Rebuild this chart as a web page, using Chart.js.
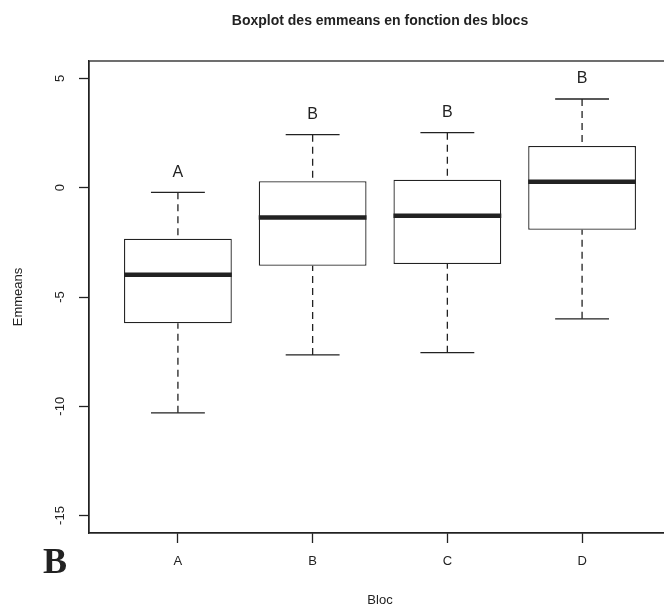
<!DOCTYPE html>
<html>
<head>
<meta charset="utf-8">
<script src="https://cdn.jsdelivr.net/npm/chart.js@4/dist/chart.umd.min.js"></script>
<style>
  html, body { margin: 0; padding: 0; background: #fff; overflow: hidden; }
  #wrap { width: 664px; height: 610px; overflow: hidden; }
</style>
</head>
<body>
<div id="wrap"><canvas id="chart" width="672" height="610"></canvas></div>
<script>
// values
const blocs = ['A', 'B', 'C', 'D'];
const whiskerLow = [-10.3, -7.65, -7.55, -6.0];
const quart1 = [-6.2, -3.57, -3.49, -1.92];
const medians = [-3.98, -1.36, -1.28, 0.27];
const quart3 = [-2.33, 0.30, 0.37, 1.91];
const whiskerHigh = [-0.21, 2.43, 2.52, 4.06];
const groupLetters = ['A', 'B', 'B', 'B'];
const yTicks = [-15, -10, -5, 0, 5];

const ink = '#222';
Chart.defaults.font.family = '"Liberation Sans", Arial, sans-serif';
Chart.defaults.color = ink;

// medians, whiskers, letters, frame, title
const boxExtras = {
  id: 'boxExtras',
  afterDatasetsDraw(chart) {
    const { ctx, chartArea: a, scales: { x, y } } = chart;
    const bars = chart.getDatasetMeta(0).data;
    ctx.save();
    ctx.strokeStyle = ink;
    ctx.fillStyle = ink;
    bars.forEach((bar, i) => {
      const cx = x.getPixelForValue(i + 1);
      const half = bar.width / 2;
      const yMed = y.getPixelForValue(medians[i]);
      const yHi = y.getPixelForValue(whiskerHigh[i]);
      const yLo = y.getPixelForValue(whiskerLow[i]);

      ctx.lineWidth = 4.5;
      ctx.beginPath();
      ctx.moveTo(cx - half, yMed);
      ctx.lineTo(cx + half, yMed);
      ctx.stroke();

      ctx.lineWidth = 1.3;
      ctx.setLineDash([7, 5]);
      ctx.beginPath();
      ctx.moveTo(cx, yHi);
      ctx.lineTo(cx, y.getPixelForValue(quart3[i]));
      ctx.moveTo(cx, yLo);
      ctx.lineTo(cx, y.getPixelForValue(quart1[i]));
      ctx.stroke();
      ctx.setLineDash([]);

      ctx.beginPath();
      ctx.moveTo(cx - half / 2, yHi);
      ctx.lineTo(cx + half / 2, yHi);
      ctx.moveTo(cx - half / 2, yLo);
      ctx.lineTo(cx + half / 2, yLo);
      ctx.stroke();

      ctx.font = '16px "Liberation Sans", Arial, sans-serif';
      ctx.textAlign = 'center';
      ctx.textBaseline = 'middle';
      ctx.fillText(groupLetters[i], cx, yHi - 20);
    });

    ctx.lineWidth = 1.3;
    ctx.strokeRect(a.left, a.top, a.right - a.left, a.bottom - a.top);

    ctx.font = 'bold 14px "Liberation Sans", Arial, sans-serif';
    ctx.textAlign = 'center';
    ctx.textBaseline = 'middle';
    ctx.fillText('Boxplot des emmeans en fonction des blocs', (a.left + a.right) / 2, 21);

    ctx.font = 'bold 36px "Liberation Serif", "Times New Roman", serif';
    ctx.textAlign = 'right';
    ctx.textBaseline = 'alphabetic';
    ctx.fillText('B', 67, 573);
    ctx.restore();
  }
};

const tickGrid = {
  display: true, drawOnChartArea: false, drawTicks: true,
  tickLength: 10, tickColor: ink, tickWidth: 1.3, offset: false
};

new Chart(document.getElementById('chart'), {
  type: 'bar',
  data: {
    datasets: [{
      data: blocs.map((b, i) => ({ x: i + 1, y: [quart1[i], quart3[i]] })),
      backgroundColor: '#fff',
      borderColor: ink,
      borderWidth: 1.3,
      borderSkipped: false,
      barPercentage: 1,
      categoryPercentage: 0.8
    }]
  },
  options: {
    responsive: false,
    animation: false,
    layout: { padding: { top: 61, left: 0, right: 1, bottom: 0 } },
    plugins: { legend: { display: false }, tooltip: { enabled: false }, title: { display: false } },
    scales: {
      x: {
        type: 'linear', min: 0.34, max: 4.66, offset: false,
        afterBuildTicks: s => { s.ticks = blocs.map((b, i) => ({ value: i + 1 })); },
        afterFit: s => { s.height = 77; },
        ticks: {
          callback: v => blocs[Math.round(v) - 1],
          color: ink, font: { size: 13 }, padding: 11, maxRotation: 0, autoSkip: false
        },
        grid: tickGrid,
        border: { display: true, color: ink, width: 1.3 },
        title: { display: true, text: 'Bloc', color: ink, font: { size: 13 }, padding: { top: 0, bottom: 2 } }
      },
      y: {
        type: 'linear', min: -15.8, max: 5.8, beginAtZero: false,
        afterBuildTicks: s => { s.ticks = yTicks.map(v => ({ value: v })); },
        afterFit: s => { s.width = 89; },
        ticks: {
          callback: v => String(v),
          color: ink, font: { size: 13 }, padding: 9,
          minRotation: 90, maxRotation: 90, crossAlign: 'center', autoSkip: false
        },
        grid: tickGrid,
        border: { display: true, color: ink, width: 1.3 },
        title: { display: true, text: 'Emmeans', color: ink, font: { size: 13 }, padding: { top: 11, bottom: 0 } }
      }
    }
  },
  plugins: [boxExtras]
});
</script>
</body>
</html>
